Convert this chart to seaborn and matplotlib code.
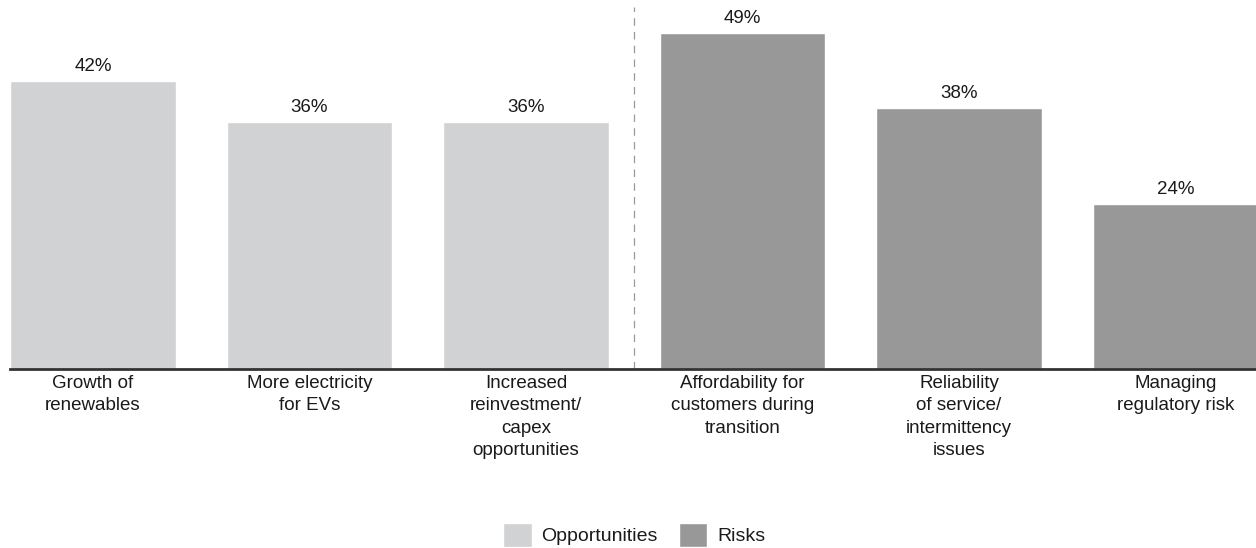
import matplotlib
matplotlib.use("Agg")
import matplotlib.pyplot as plt
import seaborn as sns
import pandas as pd
from matplotlib.patches import Patch

categories = [
    "Growth of\nrenewables",
    "More electricity\nfor EVs",
    "Increased\nreinvestment/\ncapex\nopportunities",
    "Affordability for\ncustomers during\ntransition",
    "Reliability\nof service/\nintermittency\nissues",
    "Managing\nregulatory risk",
]
values = [42, 36, 36, 49, 38, 24]
groups = ["Opportunities", "Opportunities", "Opportunities", "Risks", "Risks", "Risks"]
palette = {"Opportunities": "#D1D2D4", "Risks": "#989898"}

df = pd.DataFrame({"category": categories, "value": values, "group": groups})

sns.set_style("white")
plt.rcParams["font.family"] = ["Liberation Sans", "DejaVu Sans"]
fs = 13.5

fig = plt.figure(figsize=(12.56, 5.48), dpi=100)
ax = fig.add_axes([10 / 1256, 179 / 548, 1246 / 1256, 369 / 548])

sns.barplot(data=df, x="category", y="value", hue="group", palette=palette,
            dodge=False, width=0.765, saturation=1, legend=False, ax=ax)

for i, v in enumerate(values):
    ax.text(i, v + 0.9, f"{v}%", ha="center", va="bottom", fontsize=fs, color="#1a1a1a")

ax.set_xlim(-0.383, 5.372)
ax.set_ylim(0, 53.8)
ax.axvline(2.5, ymin=0, ymax=0.98, color="#999999", lw=0.9, ls=(0, (6, 5)))

for s in ["top", "right", "left"]:
    ax.spines[s].set_visible(False)
ax.spines["bottom"].set_color("#333333")
ax.spines["bottom"].set_linewidth(2)
ax.set_yticks([])
ax.set_xlabel("")
ax.set_ylabel("")
ax.tick_params(axis="x", length=0, pad=4, labelsize=fs, labelcolor="#1a1a1a")
for lbl in ax.get_xticklabels():
    lbl.set_linespacing(1.43)
    lbl.set_ha("center")

handles = [Patch(facecolor=palette[g], label=g) for g in ["Opportunities", "Risks"]]
fig.legend(handles=handles, loc="center", bbox_to_anchor=(0.505, 13 / 548), ncol=2,
           frameon=False, fontsize=fs + 0.5, handlelength=1.45, handleheight=1.45,
           handletextpad=0.5, columnspacing=1.1, labelcolor="#1a1a1a")

fig.savefig("out.png", dpi=100)
